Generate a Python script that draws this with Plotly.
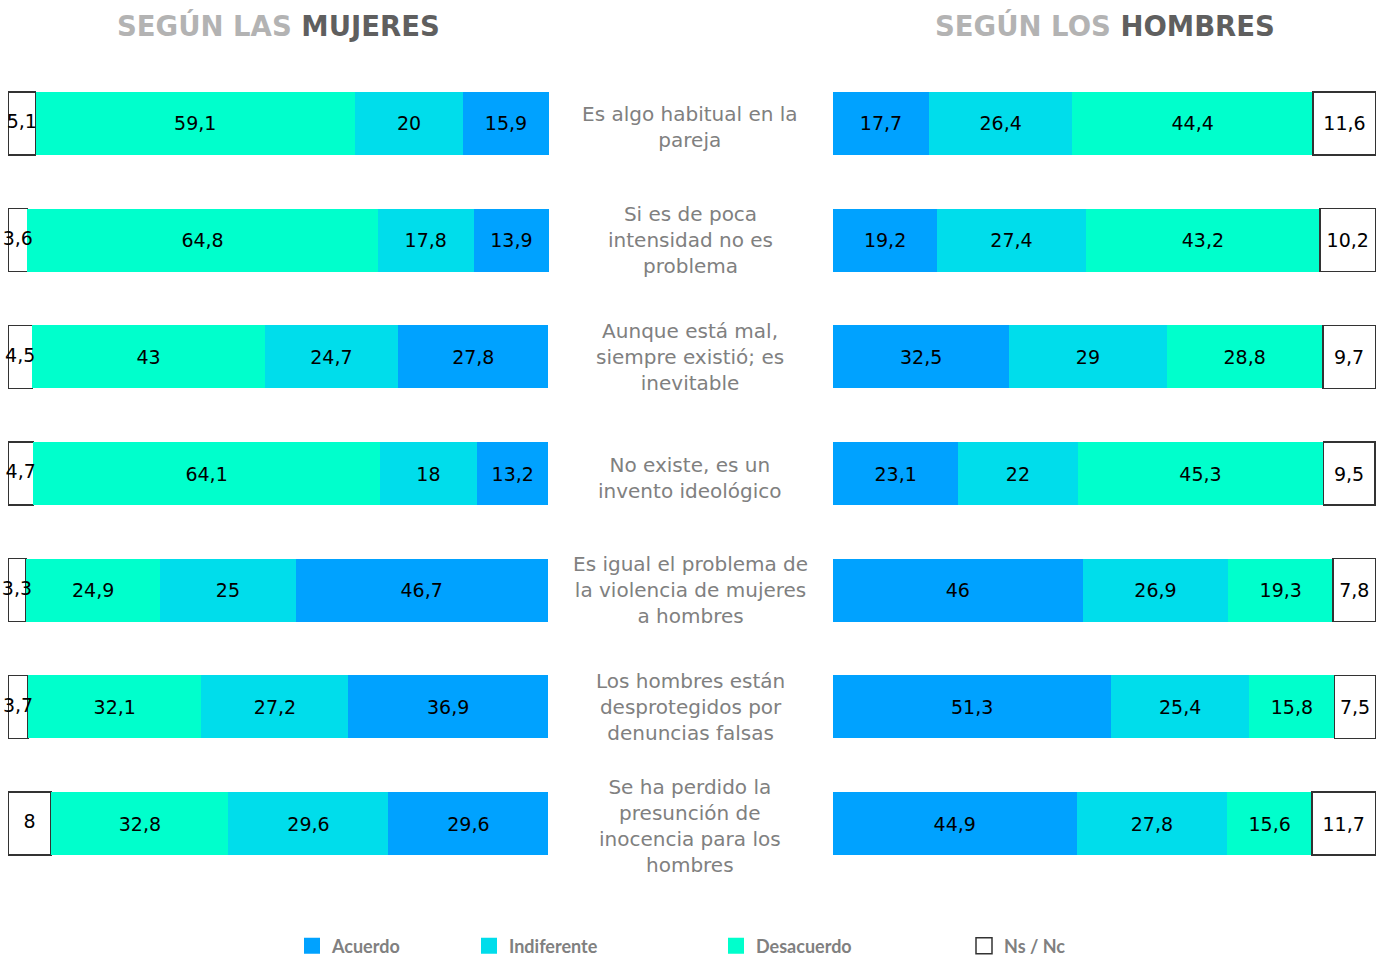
import plotly.graph_objects as go
from plotly.subplots import make_subplots

categories = [
    "Es algo habitual en la<br>pareja",
    "Si es de poca<br>intensidad no es<br>problema",
    "Aunque está mal,<br>siempre existió; es<br>inevitable",
    "No existe, es un<br>invento ideológico",
    "Es igual el problema de<br>la violencia de mujeres<br>a hombres",
    "Los hombres están<br>desprotegidos por<br>denuncias falsas",
    "Se ha perdido la<br>presunción de<br>inocencia para los<br>hombres",
]
keys = ["c%d" % i for i in range(len(categories))]

# Según las mujeres
w_nsnc = [5.1, 3.6, 4.5, 4.7, 3.3, 3.7, 8]
w_desacuerdo = [59.1, 64.8, 43, 64.1, 24.9, 32.1, 32.8]
w_indiferente = [20, 17.8, 24.7, 18, 25, 27.2, 29.6]
w_acuerdo = [15.9, 13.9, 27.8, 13.2, 46.7, 36.9, 29.6]

# Según los hombres
m_acuerdo = [17.7, 19.2, 32.5, 23.1, 46, 51.3, 44.9]
m_indiferente = [26.4, 27.4, 29, 22, 26.9, 25.4, 27.8]
m_desacuerdo = [44.4, 43.2, 28.8, 45.3, 19.3, 15.8, 15.6]
m_nsnc = [11.6, 10.2, 9.7, 9.5, 7.8, 7.5, 11.7]

legend_names = ["Acuerdo", "Indiferente", "Desacuerdo", "Ns / Nc"]

C_ACU = "#00A2FF"
C_IND = "#00DDEB"
C_DES = "#00FFCC"
C_NS = "#FFFFFF"
NS_BORDER = "#333333"

NUM_FONT = "DejaVu Sans, sans-serif"
TXT_FONT = "DejaVu Sans, sans-serif"
NUM_SIZE = 19


def fmt(v):
    return ("%g" % v).replace(".", ",")


fig = make_subplots(rows=1, cols=2, horizontal_spacing=0.0)

series = {
    "Acuerdo": (C_ACU, "legend"),
    "Indiferente": (C_IND, "legend2"),
    "Desacuerdo": (C_DES, "legend3"),
    "Ns / Nc": (C_NS, "legend4"),
}


def add(name, vals, col, with_text=True):
    color, leg = series[name]
    is_ns = name == "Ns / Nc"
    fig.add_trace(
        go.Bar(
            y=keys, x=vals, orientation="h", name=name, legendgroup=name,
            marker=dict(color=color,
                        line=dict(color=NS_BORDER if is_ns else color, width=1.5 if is_ns else 0)),
            text=[fmt(v) for v in vals] if with_text else None,
            textposition="inside" if with_text else "none",
            insidetextanchor="middle", textangle=0,
            insidetextfont=dict(color="#000000", size=NUM_SIZE, family=NUM_FONT),
            showlegend=False, width=0.54, hoverinfo="skip",
        ),
        row=1, col=col,
    )


add("Ns / Nc", w_nsnc, 1, with_text=False)
add("Desacuerdo", w_desacuerdo, 1)
add("Indiferente", w_indiferente, 1)
add("Acuerdo", w_acuerdo, 1)

# Ns/Nc labels of the left panel drawn on top (they overflow their narrow boxes)
fig.add_trace(
    go.Scatter(
        x=[v / 2 for v in w_nsnc], y=keys, mode="text", text=[fmt(v) for v in w_nsnc],
        textposition="middle center",
        textfont=dict(color="#000000", size=NUM_SIZE, family=NUM_FONT),
        showlegend=False, hoverinfo="skip", cliponaxis=False,
    ),
    row=1, col=1,
)

add("Acuerdo", m_acuerdo, 2)
add("Indiferente", m_indiferente, 2)
add("Desacuerdo", m_desacuerdo, 2)
add("Ns / Nc", m_nsnc, 2)

# legend entries (larger square swatches than bar legend symbols)
for name in legend_names:
    color, leg = series[name]
    is_ns = name == "Ns / Nc"
    fig.add_trace(
        go.Scatter(
            x=[None], y=[None], mode="markers", name=name, legendgroup=name, legend=leg,
            marker=dict(symbol="square", size=16, color=color,
                        line=dict(color=NS_BORDER if is_ns else color, width=1.5 if is_ns else 0)),
            showlegend=True, hoverinfo="skip",
        ),
        row=1, col=2,
    )

W, H = 1384, 960
L, R, T, B = 8, 8, 65, 78
pw = W - L - R


def lx(px):
    return (px - L) / pw


left_dom = [0, lx(549)]
right_dom = [lx(833), 1]
XR = [0, 100.11]

fig.update_layout(
    barmode="stack",
    width=W, height=H,
    margin=dict(l=L, r=R, t=T, b=B, autoexpand=False),
    paper_bgcolor="white", plot_bgcolor="white",
    uniformtext=dict(mode="show", minsize=NUM_SIZE),
    xaxis=dict(domain=left_dom, range=XR, visible=False, fixedrange=True),
    xaxis2=dict(domain=right_dom, range=XR, visible=False, fixedrange=True),
    yaxis=dict(categoryorder="array", categoryarray=keys, range=[6.5, -0.5], visible=False),
    yaxis2=dict(categoryorder="array", categoryarray=keys, range=[6.5, -0.5], visible=False),
    font=dict(family=TXT_FONT),
)

legend_style = dict(
    orientation="h", yanchor="middle", xanchor="left",
    xref="container", yref="container", itemsizing="trace",
    font=dict(size=18, color="#808080", family="Lato, sans-serif", weight="bold"),
    bgcolor="rgba(0,0,0,0)",
)
ly = (H - 946) / H
fig.update_layout(
    legend=dict(x=292 / W, y=ly, **legend_style),
    legend2=dict(x=469 / W, y=ly, **legend_style),
    legend3=dict(x=716 / W, y=ly, **legend_style),
    legend4=dict(x=964 / W, y=ly, **legend_style),
)

for k, cat in zip(keys, categories):
    nlines = cat.count("<br>") + 1
    fig.add_annotation(
        x=lx(690), xref="paper", y=k, yref="y", text=cat, showarrow=False,
        xanchor="center", yanchor="middle", align="center",
        yshift=-4 if nlines == 2 else (-2 if nlines == 4 else 0),
        font=dict(size=20, color="#808080", family=TXT_FONT),
    )

title_font = dict(size=27.5, family="DejaVu Sans, sans-serif", weight="bold")
ty = (H - B - 25) / (H - T - B)
fig.add_annotation(
    x=0.5, xref="x domain", y=ty, yref="paper", showarrow=False,
    text="<span style='color:#b3b3b3'>SEGÚN LAS </span><span style='color:#5f5f5f'>MUJERES</span>",
    font=title_font, xanchor="center", yanchor="middle",
)
fig.add_annotation(
    x=0.5, xref="x2 domain", y=ty, yref="paper", showarrow=False,
    text="<span style='color:#b3b3b3'>SEGÚN LOS </span><span style='color:#5f5f5f'>HOMBRES</span>",
    font=title_font, xanchor="center", yanchor="middle",
)

fig.write_html(
    "out.html",
    config={"displayModeBar": False},
    post_script="document.body.style.margin='0';document.body.style.overflow='hidden';",
)
